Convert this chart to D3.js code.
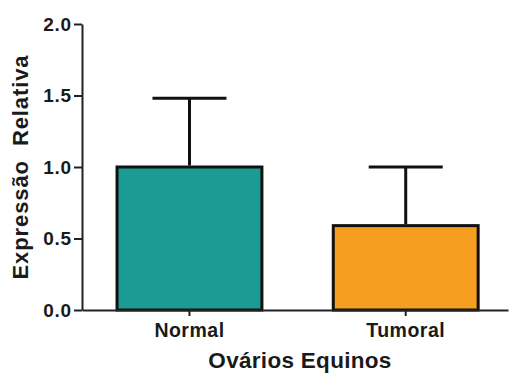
<!DOCTYPE html>
<meta charset="utf-8">
<style>
body { margin: 0; background: #fff; }
text { font-family: 'Liberation Sans', Arial, sans-serif; font-weight: bold; fill: #1a1a1a; }
</style>
<body>
<div id="chart"></div>
<script src="https://d3js.org/d3.v7.min.js"></script>
<script>
// data
var groups = ["Normal", "Tumoral"];
var means = [1.0, 0.59];
var errors = [0.48, 0.41];
var barColors = ["#1b9b93", "#f59e1f"];
var yTicks = [0, 0.5, 1.0, 1.5, 2.0];

var width = 509, height = 374;
var margin = {top: 24, right: 1, bottom: 64, left: 82};

var svg = d3.select("#chart").append("svg")
    .attr("width", width)
    .attr("height", height);

var x = d3.scaleBand()
    .domain(groups)
    .range([margin.left, width - margin.right])
    .paddingInner(0.33)
    .paddingOuter(0.15)
    .align(0.54);

var y = d3.scaleLinear()
    .domain([0, 2])
    .range([height - margin.bottom, margin.top]);

// bars
svg.selectAll("rect.bar")
    .data(groups)
  .enter().append("rect")
    .attr("class", "bar")
    .attr("x", function(d) { return x(d); })
    .attr("y", function(d, i) { return y(means[i]); })
    .attr("width", x.bandwidth())
    .attr("height", function(d, i) { return y(0) - y(means[i]); })
    .style("fill", function(d, i) { return barColors[i]; })
    .style("stroke", "#111")
    .style("stroke-width", 3);

// error bars (upper only)
var capW = 74;
groups.forEach(function(g, i) {
  var cx = x(g) + x.bandwidth() / 2;
  svg.append("line")
      .attr("x1", cx).attr("x2", cx)
      .attr("y1", y(means[i]) - 1.5).attr("y2", y(means[i] + errors[i]))
      .style("stroke", "#111").style("stroke-width", 3);
  svg.append("line")
      .attr("x1", cx - capW / 2).attr("x2", cx + capW / 2)
      .attr("y1", y(means[i] + errors[i])).attr("y2", y(means[i] + errors[i]))
      .style("stroke", "#111").style("stroke-width", 3);
});

// y axis
var yAxis = svg.append("g")
    .attr("transform", "translate(" + margin.left + ",0)")
    .call(d3.axisLeft(y).tickValues(yTicks).tickFormat(d3.format(".1f")).tickSize(8).tickSizeOuter(0));
yAxis.selectAll("text")
    .style("font-size", "19px")
    .style("letter-spacing", "0.8px")
    .attr("x", -10);

// x axis
var xAxis = svg.append("g")
    .attr("transform", "translate(0," + y(0) + ")")
    .call(d3.axisBottom(x).tickSize(6).tickSizeOuter(0));
xAxis.selectAll("text")
    .style("font-size", "19.5px")
    .style("letter-spacing", "0.5px")
    .attr("y", 13);

svg.selectAll(".domain, .tick line")
    .style("stroke", "#222").style("stroke-width", 2);

// axis titles
svg.append("text")
    .attr("x", 300)
    .attr("y", 368)
    .attr("text-anchor", "middle")
    .style("font-size", "22.5px")
    .style("letter-spacing", "0.3px")
    .text("Ovários Equinos");

svg.append("text")
    .attr("transform", "translate(28," + y(1) + ") rotate(-90)")
    .attr("text-anchor", "middle")
    .style("font-size", "22px")
    .style("letter-spacing", "0.9px")
    .attr("xml:space", "preserve")
    .text("Expressão  Relativa");
</script>
</body>
